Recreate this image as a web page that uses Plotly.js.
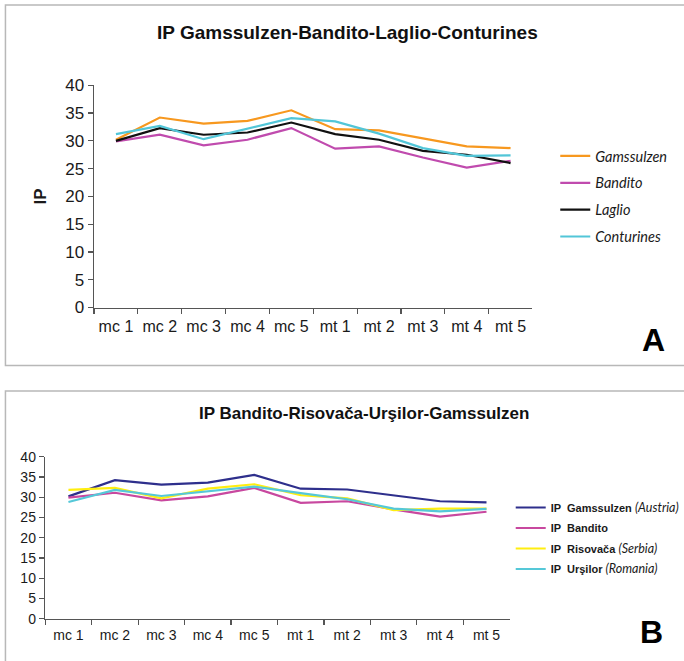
<!DOCTYPE html>
<html>
<head>
<meta charset="utf-8">
<script src="https://cdn.plot.ly/plotly-3.0.1.min.js"></script>
<style>
  html, body { margin: 0; padding: 0; background: #fff; }
  #chart { width: 684px; height: 661px; }
</style>
</head>
<body>
<div id="chart"></div>
<script>
// Sampling periods shared by both panels
const periods = ["mc 1", "mc 2", "mc 3", "mc 4", "mc 5", "mt 1", "mt 2", "mt 3", "mt 4", "mt 5"];

// IP values per site
const gamssulzen = [30.2, 34.2, 33.1, 33.6, 35.5, 32.1, 31.9, 30.4, 29.0, 28.7];
const bandito    = [29.9, 31.1, 29.2, 30.2, 32.3, 28.6, 29.0, 27.0, 25.2, 26.4];
const laglio     = [30.0, 32.3, 31.1, 31.5, 33.3, 31.2, 30.2, 28.2, 27.5, 26.0];
const conturines = [31.2, 32.7, 30.3, 32.2, 34.1, 33.5, 31.3, 28.7, 27.3, 27.4];
const risovaca   = [31.8, 32.3, 29.7, 32.1, 33.2, 30.5, 29.7, 26.8, 27.2, 27.2];
const ursilor    = [28.8, 31.8, 30.3, 31.4, 32.6, 31.0, 29.5, 27.2, 26.5, 27.1];

const yTicks = [0, 5, 10, 15, 20, 25, 30, 35, 40];

const W = 684, H = 661;
const px = v => v / W;          // horizontal pixel -> paper fraction
const py = v => 1 - v / H;      // vertical pixel (from top) -> paper fraction

function line(name, y, color, xa, ya, legend, group) {
  return {
    type: "scatter", mode: "lines", x: periods, y: y, name: name,
    xaxis: xa, yaxis: ya, legend: legend, legendgroup: group,
    line: { color: color, width: 2.2 }, hoverinfo: "x+y+name"
  };
}

const cal = "font-family:Lato, 'Open Sans', sans-serif;font-style:italic;font-weight:normal;font-size:12.5px";

const traces = [
  // Panel A
  line("Gamssulzen", gamssulzen, "#F7981F", "x", "y", "legend", "a1"),
  line("Bandito", bandito, "#C04BAE", "x", "y", "legend", "a2"),
  line("Laglio", laglio, "#111111", "x", "y", "legend", "a3"),
  line("Conturines", conturines, "#52C6D8", "x", "y", "legend", "a4"),
  // Panel B
  line("<b>IP  Gamssulzen</b> <span style=\"" + cal + "\">(Austria)</span>", gamssulzen, "#2E2F8C", "x2", "y2", "legend2", "b1"),
  line("<b>IP  Bandito</b>", bandito, "#C8489F", "x2", "y2", "legend2", "b2"),
  line("<b>IP  Risovača</b> <span style=\"" + cal + "\">(Serbia)</span>", risovaca, "#FFEE10", "x2", "y2", "legend2", "b3"),
  line("<b>IP  Urşilor</b> <span style=\"" + cal + "\">(Romania)</span>", ursilor, "#55C8D8", "x2", "y2", "legend2", "b4")
];

const axisLine = { showline: true, linecolor: "#555", linewidth: 1.5, ticks: "outside",
                   ticklen: 5, tickcolor: "#555", tickwidth: 1.2, showgrid: false,
                   zeroline: false, fixedrange: true };

const layout = {
  width: W, height: H,
  margin: { l: 0, r: 0, t: 0, b: 0 },
  paper_bgcolor: "#fff", plot_bgcolor: "rgba(0,0,0,0)",
  showlegend: true,
  font: { family: "Liberation Sans, Arial, sans-serif", color: "#1a1a1a" },

  xaxis: Object.assign({}, axisLine, {
    domain: [px(95), px(538)], anchor: "y", type: "category",
    range: [-0.5, 9.5], tickson: "boundaries", tickangle: 0, ticklabelstandoff: 4,
    tickfont: { size: 16, color: "#1a1a1a" }
  }),
  yaxis: Object.assign({}, axisLine, {
    domain: [py(307.5), py(85.3)], anchor: "x", range: [0, 40],
    tickvals: yTicks, tickfont: { size: 17, color: "#1a1a1a" },
    title: { text: "IP", font: { size: 17, weight: "bold", color: "#1a1a1a" }, standoff: 14 }
  }),
  xaxis2: Object.assign({}, axisLine, {
    domain: [px(45.7), px(515)], anchor: "y2", type: "category",
    range: [-0.5, 9.5], tickson: "boundaries", tickangle: 0, ticklabelstandoff: 3,
    tickfont: { size: 14, color: "#1a1a1a" }
  }),
  yaxis2: Object.assign({}, axisLine, {
    domain: [py(618.7), py(456.7)], anchor: "x2", range: [0, 40],
    tickvals: yTicks, tickfont: { size: 14, color: "#1a1a1a" }
  }),

  legend: {
    x: px(561), y: py(140), xanchor: "left", yanchor: "top",
    traceorder: "grouped", tracegroupgap: 5, itemwidth: 30,
    bgcolor: "rgba(0,0,0,0)",
    font: { family: "Lato, 'Open Sans', sans-serif", size: 14.5, style: "italic", color: "#1a1a1a" }
  },
  legend2: {
    x: px(516), y: py(493), xanchor: "left", yanchor: "top",
    traceorder: "grouped", tracegroupgap: 1.5, itemwidth: 30,
    bgcolor: "rgba(0,0,0,0)",
    font: { family: "Liberation Sans, Arial, sans-serif", size: 11, color: "#1a1a1a" }
  },

  annotations: [
    { text: "<b>IP Gamssulzen-Bandito-Laglio-Conturines</b>", xref: "paper", yref: "paper",
      x: px(351), y: py(32), xanchor: "center", yanchor: "middle", showarrow: false,
      font: { size: 19, color: "#111" } },
    { text: "<b>IP Bandito-Risovača-Urşilor-Gamssulzen</b>", xref: "paper", yref: "paper",
      x: px(368), y: py(413), xanchor: "center", yanchor: "middle", showarrow: false,
      font: { size: 17, color: "#111" } },
    { text: "<b>A</b>", xref: "paper", yref: "paper", x: px(660), y: py(340),
      xanchor: "center", yanchor: "middle", showarrow: false,
      font: { size: 32, color: "#000", family: "Liberation Sans, Arial, sans-serif" } },
    { text: "<b>B</b>", xref: "paper", yref: "paper", x: px(658), y: py(632),
      xanchor: "center", yanchor: "middle", showarrow: false,
      font: { size: 32, color: "#000", family: "Liberation Sans, Arial, sans-serif" } }
  ],

  // panel frames
  shapes: [
    { type: "rect", xref: "paper", yref: "paper", x0: px(5.5), x1: 1.05, y0: py(365.5), y1: py(5),
      line: { color: "#b8b8b8", width: 1.5 }, layer: "below" },
    { type: "rect", xref: "paper", yref: "paper", x0: px(5.5), x1: 1.05, y0: -0.05, y1: py(391),
      line: { color: "#b8b8b8", width: 1.5 }, layer: "below" }
  ]
};

Plotly.newPlot("chart", traces, layout, { displayModeBar: false, staticPlot: true });
</script>
</body>
</html>
